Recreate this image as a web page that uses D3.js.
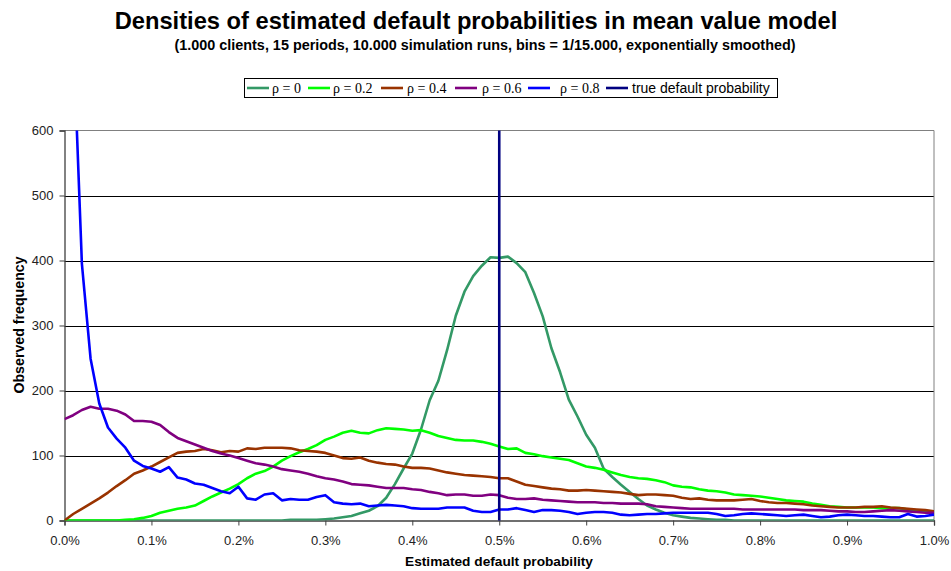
<!DOCTYPE html>
<html><head><meta charset="utf-8">
<script src="https://cdn.jsdelivr.net/npm/d3@7"></script>
<style>body{margin:0;background:#fff}svg{display:block}</style>
</head><body><svg id="c" width="951" height="571"></svg>
<script>
// x positions of bins in percent (0.00% .. 1.00%, step 0.01%)
const binStepPct = 0.01;
const xPct = d3.range(0, 101).map(i => +(i * binStepPct).toFixed(2));
const seriesNames = ["ρ = 0", "ρ = 0.2", "ρ = 0.4", "ρ = 0.6", "ρ = 0.8"];
const rho0 = [0,0,0,0,0,0,0,0,0,0, 0,0,0,0,0,0,0,0,0,0, 0,0,0,0,0,0,1,1,1,1,
  2,3,5,7,11,15,22,35,56,80, 103,140,185,215,262,315,352,376,392,405,
  404,406,396,382,350,314,265,228,186,160, 132,112,80,67,55,44,33,23,17,12,
  8,6,4,3,2,1,1,0,0,0, 0,0,0,0,0,0,0,0,0,0, 0,0,0,0,0,0,0,0,0,0, 0];
const rho02 = [0,0,0,0,0,0,0,1,2,4, 7,12,15,18,20,23,30,37,43,49,
  56,65,72,76,83,92,99,105,110,116, 124,129,135,138,135,134,139,142,141,140,
  138,139,135,130,127,124,123,123,121,118, 114,110,111,104,102,99,97,95,93,88,
  83,81,78,74,70,67,65,64,62,59, 54,52,51,48,46,45,43,40,39,38,
  37,35,33,31,30,29,26,24,22,21, 20,20,20,20,19,19,19,17,15,14, 13];
const rho04 = [0,10,18,26,34,43,53,62,72,77, 83,90,97,104,106,107,110,108,105,107,
  106,111,110,112,112,112,111,108,107,106, 104,100,96,95,97,92,89,87,86,83,
  81,81,80,77,74,72,70,69,68,67, 65,65,60,55,53,51,49,48,46,46,
  47,46,45,44,43,41,39,40,40,39, 38,35,33,34,32,31,31,31,32,33,
  30,28,27,27,26,25,23,22,21,20, 20,20,21,21,22,20,19,18,17,16, 14];
const rho06 = [156,162,170,175,172,172,169,163,153,153, 152,147,136,127,122,117,112,107,103,100,
  96,92,88,86,83,79,77,75,72,68, 65,63,60,56,55,54,52,50,50,50,
  48,47,44,42,39,40,40,38,38,40, 39,35,33,33,34,32,31,30,29,28,
  28,28,27,27,26,26,26,25,22,21, 20,19,18,18,18,18,18,18,17,17,
  17,17,17,17,17,16,16,16,15,14, 14,13,13,14,15,16,15,14,13,12, 12];
const rho08 = [1500,750,395,249,180,143,126,112,92,84, 80,75,82,66,63,57,55,50,45,42,
  52,34,32,40,42,31,33,32,32,36, 39,28,26,25,26,22,23,24,23,22,
  19,18,18,18,20,20,20,15,13,13, 17,17,19,16,13,16,16,15,13,10,
  12,13,13,12,9,8,9,10,10,11, 12,12,12,12,12,10,7,8,10,11,
  10,9,8,7,8,9,7,5,6,8, 9,8,7,7,6,5,5,10,6,7, 9];
const seriesValues = [rho0, rho02, rho04, rho06, rho08];
const seriesColors = ["#339966", "#00FF00", "#993300", "#800080", "#0000FF"];
const trueDefaultPct = 0.5;
const trueLabel = "true default probability";
const trueColor = "#000080";
const yTicks = [0, 100, 200, 300, 400, 500, 600];
const xTicks = [0, 0.1, 0.2, 0.3, 0.4, 0.5, 0.6, 0.7, 0.8, 0.9, 1.0];

const SANS = "Arial, 'Liberation Sans', sans-serif";
const SERIF = "'Times New Roman', 'Liberation Serif', serif";
const svg = d3.select("#c");
const L = 64.5, R = 934, T = 130.5, B = 520.5;
const x = d3.scaleLinear().domain([0, 1]).range([L, R]);
const y = d3.scaleLinear().domain([0, 600]).range([B, T]);

svg.append("text").attr("x", 476).attr("y", 29).attr("text-anchor", "middle")
  .style("font-family", SANS).style("font-size", "23.7px").style("font-weight", "bold").attr("fill", "#000")
  .text("Densities of estimated default probabilities in mean value model");
svg.append("text").attr("x", 485).attr("y", 50).attr("text-anchor", "middle")
  .style("font-family", SANS).style("font-size", "14.4px").style("font-weight", "bold").attr("fill", "#000")
  .text("(1.000 clients, 15 periods, 10.000 simulation runs, bins = 1/15.000, exponentially smoothed)");

// gridlines
svg.append("g").selectAll("line").data(yTicks.filter(d => d > 0 && d < 600)).join("line")
  .attr("x1", L).attr("x2", R).attr("y1", d => Math.round(y(d)) + 0.5).attr("y2", d => Math.round(y(d)) + 0.5)
  .attr("stroke", "#000").attr("stroke-width", 1);
// plot border top/right
svg.append("line").attr("x1", L).attr("x2", R).attr("y1", T).attr("y2", T).attr("stroke", "#808080");
svg.append("line").attr("x1", R).attr("x2", R).attr("y1", T).attr("y2", B).attr("stroke", "#808080");

// axes
const yAxis = d3.axisLeft(y).tickValues(yTicks).tickSize(5).tickPadding(6).tickFormat(d3.format("d"));
const gy = svg.append("g").attr("transform", `translate(${L},0)`).call(yAxis);
const xAxis = d3.axisBottom(x).tickValues(xTicks).tickSize(5).tickPadding(10).tickFormat(d => d.toFixed(1) + "%");
const gx = svg.append("g").attr("transform", `translate(0,${B})`).call(xAxis);
[gx, gy].forEach(g => {
  g.attr("font-family", null).attr("font-size", null);
  g.select(".domain").attr("stroke", "#404040").attr("stroke-width", 1.3);
  g.selectAll(".tick line").attr("stroke", "#404040");
  g.selectAll("text").style("font-size", "13px").attr("fill", "#222").style("font-family", SANS);
});

svg.append("defs").append("clipPath").attr("id", "clip").append("rect")
  .attr("x", L).attr("y", T).attr("width", R - L).attr("height", B - T);

const line = d3.line().x((d, i) => x(xPct[i])).y(d => y(d));
const gl = svg.append("g").attr("clip-path", "url(#clip)");
seriesValues.forEach((vals, k) => {
  gl.append("path").datum(vals).attr("d", line).attr("fill", "none")
    .attr("stroke", seriesColors[k]).attr("stroke-width", 2.6).attr("stroke-linejoin", "round");
});
svg.append("line").attr("x1", x(trueDefaultPct)).attr("x2", x(trueDefaultPct)).attr("y1", T).attr("y2", B)
  .attr("stroke", trueColor).attr("stroke-width", 2.6);

// axis titles
svg.append("text").attr("x", 499).attr("y", 566).attr("text-anchor", "middle")
  .style("font-family", SANS).style("font-size", "13.7px").style("font-weight", "bold").text("Estimated default probability");
svg.append("text").attr("transform", "translate(23.5,325) rotate(-90)").attr("text-anchor", "middle")
  .style("font-family", SANS).style("font-size", "14.2px").style("font-weight", "bold").text("Observed frequency");

// legend
const lg = svg.append("g");
lg.append("rect").attr("x", 244.5).attr("y", 78.5).attr("width", 533).attr("height", 19)
  .attr("fill", "#fff").attr("stroke", "#000");
const legendItems = seriesNames.map((n, i) => ({ name: n, color: seriesColors[i], serif: true }))
  .concat([{ name: trueLabel, color: trueColor, serif: false }]);
const legX = [247, 308, 381, 455, 528, 606];
const legTX = [272, 333, 407, 482, 560, 632];
legendItems.forEach((d, i) => {
  lg.append("line").attr("x1", legX[i]).attr("x2", legX[i] + 22).attr("y1", 88).attr("y2", 88)
    .attr("stroke", d.color).attr("stroke-width", 2.6);
  lg.append("text").attr("x", legTX[i]).attr("y", 93).style("font-size", "14px")
    .style("font-family", d.serif ? SERIF : SANS)
    .text(d.name);
});
</script></body></html>
